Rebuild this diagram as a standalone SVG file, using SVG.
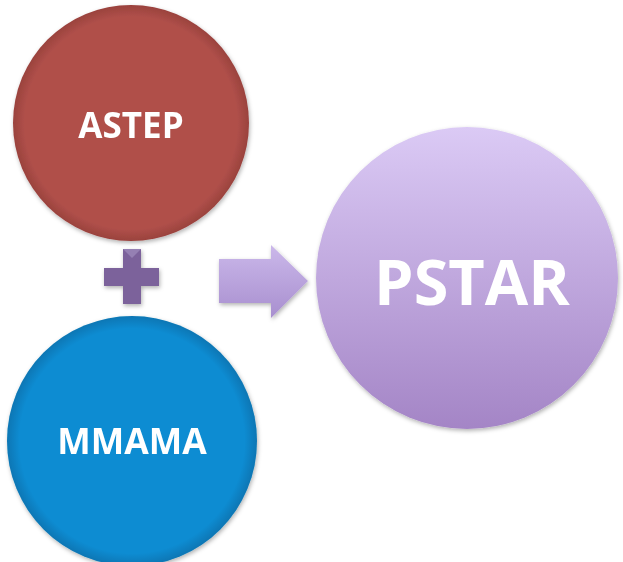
<svg xmlns="http://www.w3.org/2000/svg" width="623" height="562" viewBox="0 0 623 562">
<defs>
<style>
.lbl{font-family:"Open Sans","Noto Sans","Liberation Sans",sans-serif;font-weight:bold;fill:#ffffff;text-anchor:middle}
</style>
<radialGradient id="gRed" cx="0.5" cy="0.5" r="0.5">
<stop offset="0.9" stop-color="#b0504a"/>
<stop offset="1" stop-color="#9a423d"/>
</radialGradient>
<radialGradient id="gBlue" cx="0.5" cy="0.5" r="0.5">
<stop offset="0.9" stop-color="#0a8cd2"/>
<stop offset="1" stop-color="#0876b4"/>
</radialGradient>
<linearGradient id="gPur" x1="0" y1="0" x2="0" y2="1">
<stop offset="0" stop-color="#dbcaf5"/>
<stop offset="1" stop-color="#a485c6"/>
</linearGradient>
<linearGradient id="gArrow" x1="0" y1="0" x2="0" y2="1">
<stop offset="0" stop-color="#cbb8ea"/>
<stop offset="1" stop-color="#a88fcf"/>
</linearGradient>
<filter id="sh" x="-10%" y="-10%" width="130%" height="130%">
<feDropShadow dx="1" dy="2" stdDeviation="2" flood-color="#000" flood-opacity="0.3"/>
</filter>
</defs>
<g id="node-astep" filter="url(#sh)">
<circle cx="131" cy="123" r="118" fill="url(#gRed)"/>
<text class="lbl" x="131" y="138" font-size="35">ASTEP</text>
</g>
<g id="node-mmama" filter="url(#sh)">
<circle cx="132" cy="441" r="125" fill="url(#gBlue)"/>
<text class="lbl" x="132" y="454" font-size="35.5">MMAMA</text>
</g>
<g id="node-pstar" filter="url(#sh)">
<circle cx="467" cy="278" r="151" fill="url(#gPur)"/>
<text class="lbl" x="472" y="305" font-size="63">PSTAR</text>
</g>
<g id="connectors">
<g id="plus" filter="url(#sh)">
<path d="M123,249 H141 V268 H159 V286 H141 V304 H123 V286 H104 V268 H123 Z" fill="#7b629b"/>
<path d="M123,249 H141 L132,258 Z" fill="#9580b3"/>
</g>
<g id="arrow" filter="url(#sh)">
<path d="M219,259 H271 V245 L308,281 L271,318 V303 H219 Z" fill="url(#gArrow)"/>
</g>
</g>
</svg>
